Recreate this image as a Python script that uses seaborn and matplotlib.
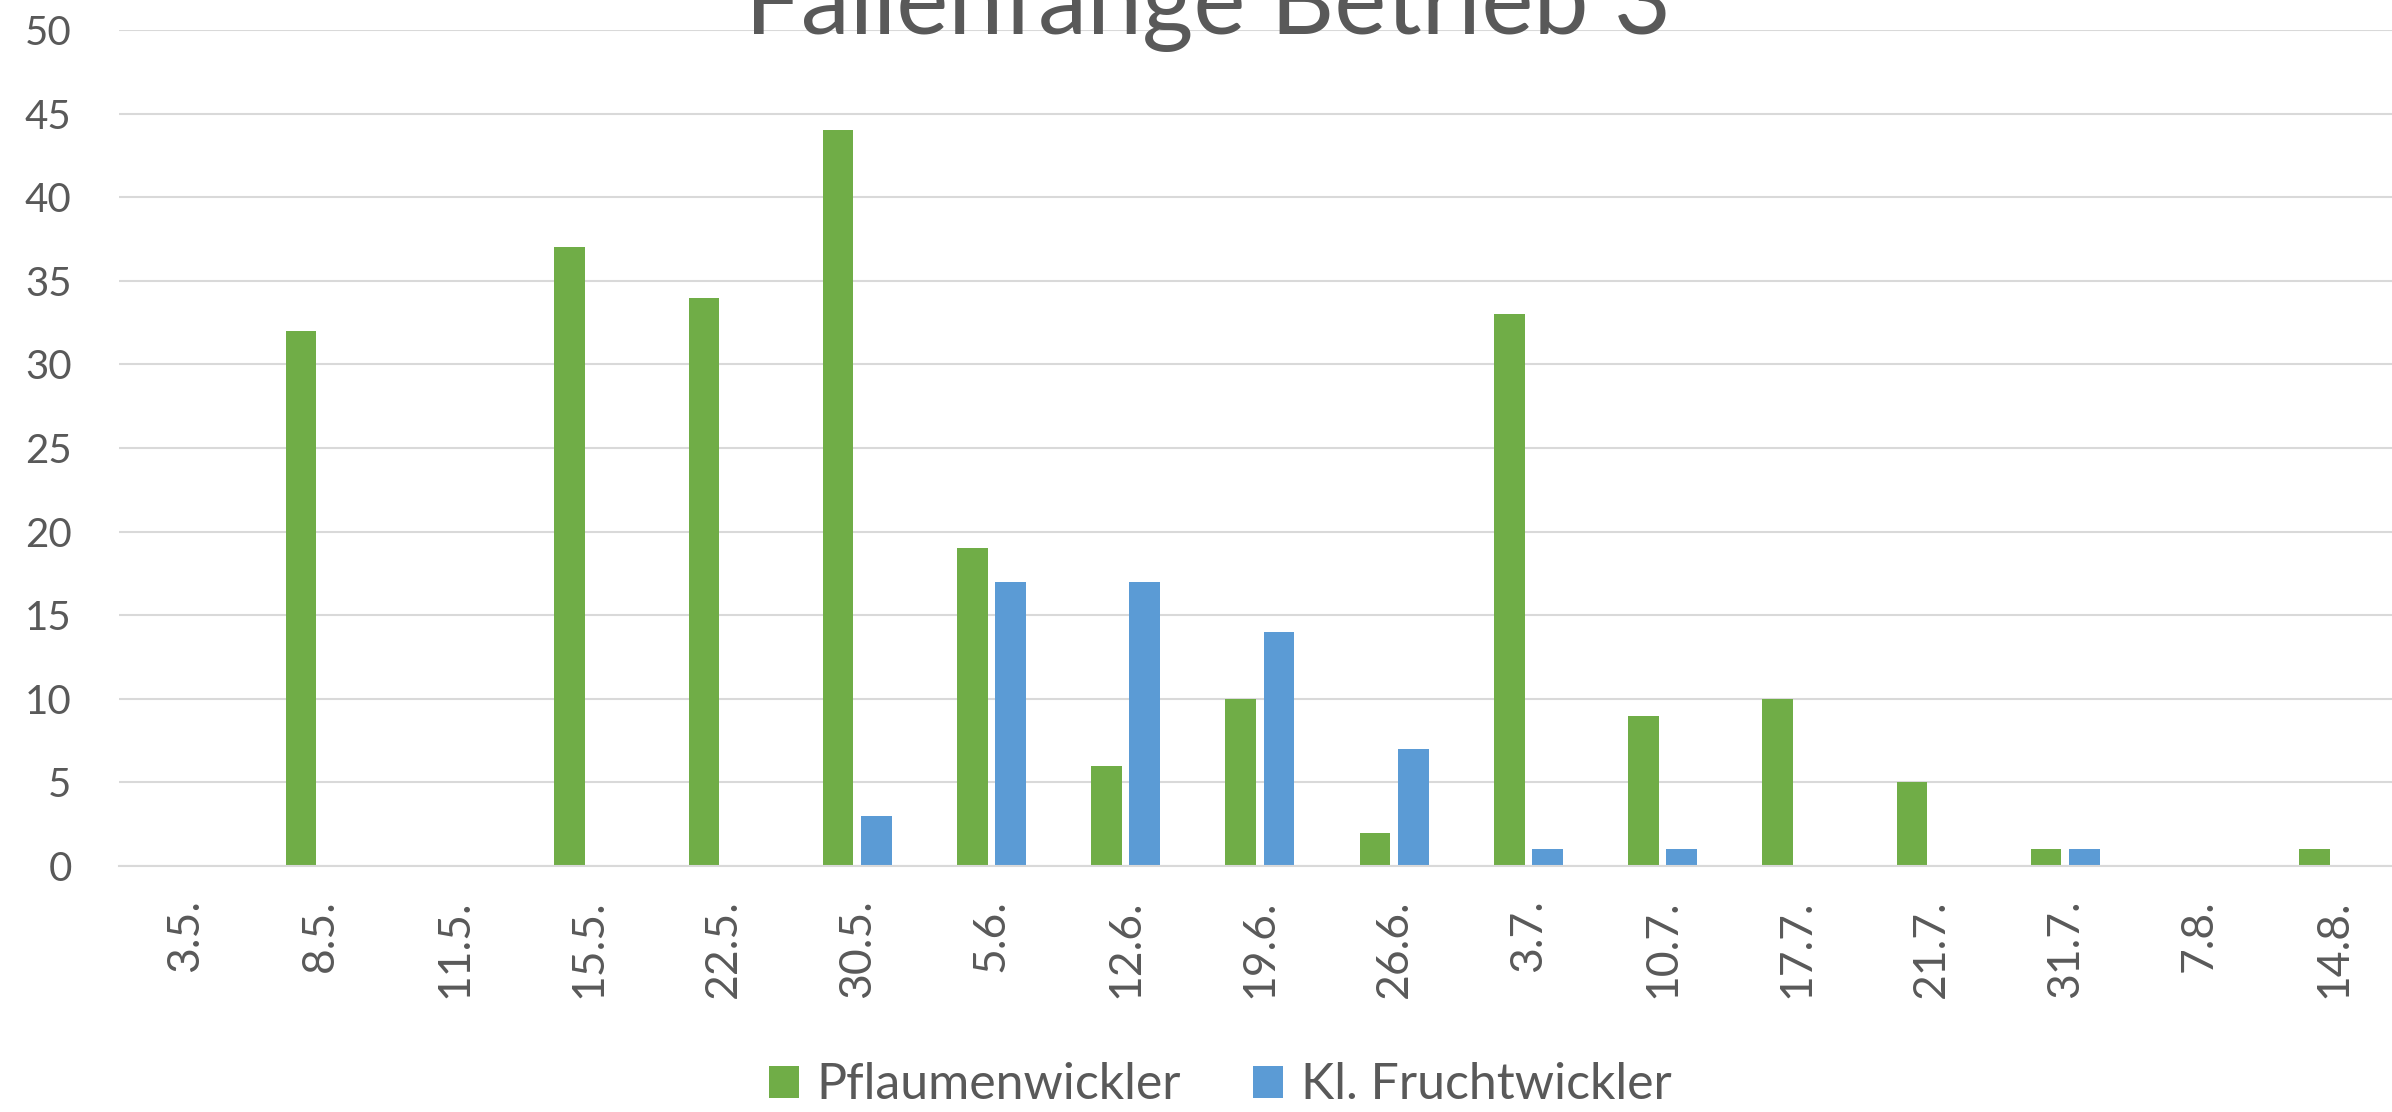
import matplotlib

matplotlib.use("Agg")

import matplotlib.pyplot as plt
import pandas as pd
import seaborn as sns

dates = ["3.5.", "8.5.", "11.5.", "15.5.", "22.5.", "30.5.", "5.6.", "12.6.", "19.6.",
         "26.6.", "3.7.", "10.7.", "17.7.", "21.7.", "31.7.", "7.8.", "14.8."]
pflaumenwickler = [0, 32, 0, 37, 34, 44, 19, 6, 10, 2, 33, 9, 10, 5, 1, 0, 1]
fruchtwickler = [0, 0, 0, 0, 0, 3, 17, 17, 14, 7, 1, 1, 0, 0, 1, 0, 0]

df = pd.DataFrame({
    "Datum": dates * 2,
    "Anzahl": pflaumenwickler + fruchtwickler,
    "Art": ["Pflaumenwickler"] * len(dates) + ["Kl. Fruchtwickler"] * len(dates),
})

sns.set_theme(style="white")
plt.rcParams["font.family"] = ["Lato", "DejaVu Sans"]
text_col = "#595959"
grid_col = "#d9d9d9"

fig = plt.figure(figsize=(23.92, 11.12), dpi=100)
ax = fig.add_axes([0.0497, 0.2212, 0.954, 0.7518])

sns.barplot(
    data=df, x="Datum", y="Anzahl", hue="Art",
    palette=["#70AD47", "#5B9BD5"], saturation=1, width=0.57, gap=0.2,
    linewidth=0, ax=ax,
)

ax.set_ylim(0, 50)
ax.set_yticks(range(0, 51, 5))
ax.set_xlim(-0.5, len(dates) - 0.5)
ax.yaxis.grid(True, color=grid_col, linewidth=1.5)
ax.set_axisbelow(True)
for side in ["top", "left", "right"]:
    ax.spines[side].set_visible(False)
ax.spines["bottom"].set_color(grid_col)
ax.spines["bottom"].set_linewidth(1.5)
ax.tick_params(axis="y", length=0, pad=34, labelsize=29, labelcolor=text_col)
ax.tick_params(axis="x", length=0, pad=24, labelsize=32, labelcolor=text_col, rotation=90)
ax.set_xlabel("")
ax.set_ylabel("")

# Titel liegt im Original teilweise oberhalb des Bildrands
fig.text(0.505, 0.969, "Fallenfänge Betrieb 3", ha="center", va="baseline",
         fontsize=71, color=text_col)

ax.legend_.remove()
handles, labels = ax.get_legend_handles_labels()
fig.legend(handles, labels, loc="center", bbox_to_anchor=(0.51, 0.024), ncol=2,
           frameon=False, fontsize=36, labelcolor=text_col, handlelength=0.6,
           handleheight=0.6, handletextpad=0.35, columnspacing=1.45)

fig.savefig("out.png", dpi=100)
plt.close(fig)
